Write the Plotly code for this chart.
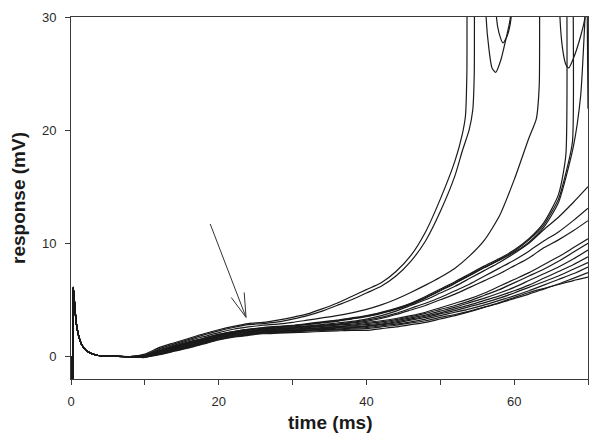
import plotly.graph_objects as go

# shared stimulus artefact + early decay (ms, mV)
t_early = [0, 0.08, 0.15, 0.3, 0.45, 0.7, 1.0, 1.4, 2.0, 2.6, 3.4, 4.5, 6, 8]
v_early = [0, -3, -3, 6.1, 5.0, 3.0, 1.9, 1.1, 0.55, 0.3, 0.12, 0.02, 0, -0.02]

t_grid = [10, 12, 14, 16, 18, 20, 22, 24, 26, 28, 30, 32, 34, 36, 38,
          40, 42, 44, 46, 48, 50, 52, 54, 56, 58, 60, 62, 64, 66, 68, 70]

# traces that fire (grid part, then a tail with the clipped spikes)
v_a = [0.2, 0.8, 1.2, 1.6, 2.0, 2.35, 2.65, 2.9, 3.0, 3.2, 3.45, 3.75, 4.2, 4.7, 5.3,
       5.9, 6.5, 7.5, 8.9, 11.0, 13.9, 17.3]
tail_t_a = [53, 53.4, 53.6, 53.7, 55, 56, 56.2, 56.6, 57, 57.5, 58.2, 58.8, 59.5, 60, 62, 66, 70]
tail_v_a = [19.7, 21.2, 25, 45, 60, 45, 30, 27.1, 25.5, 25.1, 26.2, 27.8, 30, 45, 60, 60, 60]

v_b = [0.1, 0.7, 1.1, 1.5, 1.9, 2.25, 2.55, 2.8, 2.9, 3.05, 3.3, 3.6, 4.0, 4.5, 5.0,
       5.6, 6.2, 7.1, 8.4, 10.2, 12.8, 16.0]
tail_t_b = [53, 53.9, 54.4, 54.6, 54.7, 56, 57.4, 57.6, 57.95, 58.5, 59.1, 59.6, 60, 62, 66, 70]
tail_v_b = [18.2, 20, 21.8, 25, 45, 60, 45, 30, 28.6, 27.7, 28.4, 30, 45, 60, 60, 60]

v_c = [0.1, 0.6, 1.0, 1.4, 1.75, 2.1, 2.4, 2.6, 2.75, 2.85, 3.0, 3.2, 3.4, 3.6, 3.85,
       4.15, 4.55, 5.05, 5.65, 6.3, 7.0, 7.8, 8.9, 10.3, 12.4, 15.6, 19.3]
tail_t_c = [63, 63.4, 63.5, 65, 66, 66.2, 66.6, 67, 67.4, 68, 69, 69.6, 70]
tail_v_c = [21.0, 24, 45, 60, 45, 30, 27, 25.8, 25.5, 26.3, 28.3, 30, 40]

v_d = [0.0, 0.5, 0.9, 1.25, 1.6, 1.95, 2.2, 2.4, 2.55, 2.65, 2.75, 2.9, 3.05, 3.2, 3.4,
       3.6, 3.9, 4.25, 4.7, 5.3, 5.95, 6.6, 7.3, 8.0, 8.65, 9.4, 10.4, 11.8, 14.3]
tail_t_d = [67, 67.1, 68, 69.8, 69.9, 70]
tail_v_d = [17.8, 45, 60, 45, 30, 21.9]

v_e = [0.1, 0.45, 0.85, 1.2, 1.55, 1.9, 2.15, 2.35, 2.5, 2.6, 2.7, 2.85, 3.0, 3.15, 3.35,
       3.55, 3.85, 4.2, 4.65, 5.2, 5.85, 6.5, 7.2, 7.9, 8.55, 9.3, 10.3, 11.6, 13.9]
tail_t_e = [67, 67.9, 68.0, 70]
tail_v_e = [16.2, 19.0, 45, 60]

v_f = [0.05, 0.5, 0.9, 1.3, 1.6, 1.95, 2.2, 2.4, 2.5, 2.6, 2.7, 2.8, 2.95, 3.1, 3.3,
       3.5, 3.8, 4.15, 4.6, 5.15, 5.8, 6.45, 7.15, 7.85, 8.5, 9.2, 10.1, 11.4, 13.6, 18.5]
tail_t_f = [69, 69.6, 70]
tail_v_f = [23.0, 30, 36]

# sub-threshold traces, full grid
v_l1 = [0.0, 0.45, 0.85, 1.2, 1.55, 1.9, 2.15, 2.35, 2.45, 2.55, 2.6, 2.7, 2.8, 2.95, 3.1,
        3.3, 3.6, 4.0, 4.5, 5.0, 5.6, 6.2, 6.9, 7.6, 8.3, 9.1, 10.0, 11.2, 12.3, 13.6, 15.0]
v_l2 = [-0.05, 0.4, 0.8, 1.15, 1.5, 1.85, 2.1, 2.3, 2.4, 2.5, 2.55, 2.65, 2.75, 2.85, 3.0,
        3.2, 3.45, 3.8, 4.25, 4.7, 5.2, 5.8, 6.4, 7.1, 7.8, 8.5, 9.3, 10.2, 11.0, 12.0, 13.1]
v_l3 = [0.05, 0.35, 0.75, 1.1, 1.45, 1.8, 2.05, 2.25, 2.35, 2.45, 2.5, 2.6, 2.7, 2.8, 2.95,
        3.1, 3.35, 3.7, 4.1, 4.5, 5.0, 5.5, 6.1, 6.7, 7.3, 8.0, 8.7, 9.6, 10.3, 11.1, 12.0]
v_l4 = [0.0, 0.5, 0.8, 1.15, 1.5, 1.8, 2.05, 2.2, 2.3, 2.4, 2.45, 2.55, 2.65, 2.75, 2.85,
        3.0, 3.15, 3.35, 3.6, 3.9, 4.3, 4.7, 5.1, 5.6, 6.2, 6.8, 7.4, 8.1, 8.8, 9.6, 10.4]
v_l5 = [-0.1, 0.3, 0.7, 1.05, 1.4, 1.75, 2.0, 2.15, 2.3, 2.35, 2.4, 2.5, 2.55, 2.65, 2.75,
        2.9, 3.05, 3.25, 3.5, 3.8, 4.15, 4.5, 4.9, 5.4, 5.9, 6.5, 7.1, 7.7, 8.4, 9.2, 10.0]
v_l6 = [0.0, 0.35, 0.7, 1.0, 1.35, 1.7, 1.95, 2.1, 2.25, 2.3, 2.35, 2.45, 2.5, 2.6, 2.7,
        2.8, 2.95, 3.15, 3.4, 3.65, 4.0, 4.35, 4.75, 5.15, 5.6, 6.1, 6.7, 7.3, 7.9, 8.6, 9.4]
v_l7 = [0.05, 0.3, 0.65, 0.95, 1.3, 1.65, 1.9, 2.05, 2.2, 2.25, 2.3, 2.4, 2.45, 2.55, 2.6,
        2.7, 2.85, 3.05, 3.3, 3.55, 3.85, 4.2, 4.55, 4.95, 5.35, 5.8, 6.3, 6.9, 7.5, 8.1, 8.8]
v_l8 = [-0.05, 0.25, 0.6, 0.9, 1.25, 1.6, 1.85, 2.0, 2.15, 2.2, 2.25, 2.35, 2.4, 2.5, 2.55,
        2.65, 2.8, 2.95, 3.2, 3.45, 3.75, 4.05, 4.4, 4.75, 5.15, 5.6, 6.1, 6.6, 7.1, 7.7, 8.3]
v_l9 = [0.0, 0.2, 0.55, 0.85, 1.2, 1.55, 1.8, 1.95, 2.1, 2.15, 2.2, 2.3, 2.35, 2.4, 2.5,
        2.55, 2.7, 2.85, 3.05, 3.3, 3.6, 3.9, 4.2, 4.55, 4.95, 5.35, 5.8, 6.3, 6.8, 7.3, 7.9]
v_l10 = [0.05, 0.2, 0.5, 0.8, 1.15, 1.5, 1.75, 1.9, 2.05, 2.1, 2.15, 2.25, 2.3, 2.35, 2.4,
         2.45, 2.6, 2.75, 2.95, 3.15, 3.45, 3.7, 4.0, 4.35, 4.7, 5.1, 5.5, 5.95, 6.4, 6.9, 7.4]
v_l11 = [-0.05, 0.15, 0.45, 0.75, 1.1, 1.45, 1.7, 1.85, 2.0, 2.05, 2.1, 2.15, 2.2, 2.25, 2.3,
         2.3, 2.45, 2.6, 2.8, 3.0, 3.3, 3.6, 3.95, 4.35, 4.75, 5.2, 5.65, 6.0, 6.35, 6.7, 7.0]

x_tickvals = [0, 10, 20, 30, 40, 50, 60, 70]
x_ticktext = ["0", "", "20", "", "40", "", "60", ""]
y_tickvals = [0, 10, 20, 30]

LINE = "#1a1a1a"
AXIS = "#3a3a3a"
FONT = "Liberation Sans, Arial, sans-serif"

firing = [(v_a, tail_t_a, tail_v_a), (v_b, tail_t_b, tail_v_b), (v_c, tail_t_c, tail_v_c),
          (v_d, tail_t_d, tail_v_d), (v_e, tail_t_e, tail_v_e), (v_f, tail_t_f, tail_v_f)]
quiet = [v_l1, v_l2, v_l3, v_l4, v_l5, v_l6, v_l7, v_l8, v_l9, v_l10, v_l11]

fig = go.Figure()


def add_trace(t, v):
    fig.add_trace(go.Scatter(x=t, y=v, mode="lines",
                             line=dict(color=LINE, width=1.2, shape="spline",
                                       smoothing=0.6),
                             hoverinfo="skip", showlegend=False))


for vals in quiet:
    add_trace(t_early + t_grid, v_early + vals)
for vals, tt, tv in firing:
    add_trace(t_early + t_grid[:len(vals)] + tt, v_early + vals + tv)

# open arrow pointing at the divergence point
fig.add_shape(type="path", xref="x", yref="y",
              path="M 18.85 11.7 L 23.7 3.45 M 21.7 5.2 L 23.7 3.45 L 23.45 5.65",
              line=dict(color="#333333", width=1))

axis_common = dict(showline=True, linecolor=AXIS, linewidth=1, mirror=True,
                   showgrid=False, zeroline=False, ticks="outside",
                   tickcolor=AXIS, tickwidth=1, automargin=False,
                   tickfont=dict(family=FONT, size=13, color="#2a2a2a"))

fig.update_xaxes(range=[0, 70], tickmode="array", tickvals=x_tickvals,
                 ticktext=x_ticktext, ticklen=5, ticklabelstandoff=5,
                 **axis_common)
fig.update_yaxes(range=[-2, 30], tickmode="array", tickvals=y_tickvals,
                 ticklen=5, ticklabelstandoff=6, **axis_common)

title_font = dict(family=FONT, size=19, color="#1a1a1a", weight="bold")
fig.add_annotation(text="time (ms)", xref="paper", yref="paper",
                   x=0.5, y=-0.1215, xanchor="center", yanchor="middle",
                   showarrow=False, font=title_font)
fig.add_annotation(text="response (mV)", xref="paper", yref="paper",
                   x=-0.1025, y=0.5, xanchor="center", yanchor="middle",
                   textangle=-90, showarrow=False, font=title_font)

# the page body adds an 8 px offset, so the figure is 8 px smaller and shifted
fig.update_layout(width=592, height=435,
                  margin=dict(l=63, r=12, t=9, b=64),
                  paper_bgcolor="white", plot_bgcolor="white",
                  showlegend=False, hovermode=False)

fig.write_html("out.html")
